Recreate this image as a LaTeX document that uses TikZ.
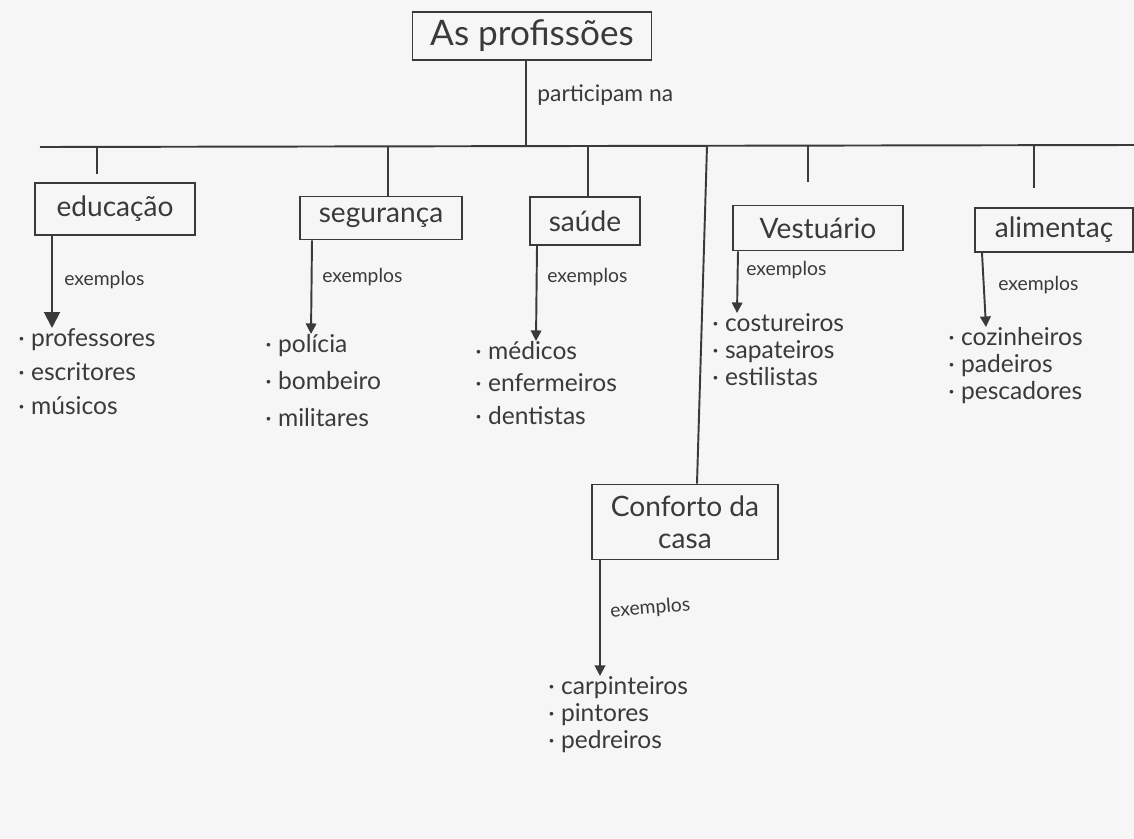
\documentclass[tikz,border=0pt]{standalone}
\usepackage{fontspec}
\setmainfont{Lato}
\usetikzlibrary{arrows.meta}
\definecolor{ink}{HTML}{3A3A3A}
\definecolor{paper}{HTML}{F6F6F6}
\tikzset{
  x=0.02cm, y=-0.02cm,
  stroke/.style={draw=ink, line width=1.1pt},
  frame/.style={stroke, rectangle, inner sep=0pt, text=ink, align=center},
  title/.style={frame, font=\fontsize{20}{22}\selectfont},
  topic/.style={frame, font=\fontsize{16}{18}\selectfont},
  link/.style={text=ink, anchor=west, inner sep=0pt, font=\fontsize{11}{13}\selectfont},
  items/.style={text=ink, anchor=north west, inner sep=0pt, align=left},
  ex/.style={stroke, -{Triangle[length=6pt,width=6pt]}},
}
\begin{document}
\begin{tikzpicture}
\fill[paper] (0,0) rectangle (1134,839);
\useasboundingbox (0,0) rectangle (1134,839);

% root concept
\node[title, minimum width=239*0.02cm, minimum height=48*0.02cm] (root) at (532,36) {As profissões};
\coordinate (busL) at (40,147);
\coordinate (busR) at (1134,145);
\draw[stroke] (root.south -| 526,0) -- (526,146) coordinate (hub);
\node[link, font=\fontsize{13}{15}\selectfont] (part) at (537,95) {participam na};
\draw[stroke] (busL) -- (busR);

% areas
\node[topic, minimum width=160*0.02cm, minimum height=52*0.02cm] (edu) at (115,209) {educação};
\node[topic, minimum width=162*0.02cm, minimum height=43*0.02cm] (seg) at (381,218) {segurança};
\node[topic, minimum width=110*0.02cm, minimum height=48*0.02cm] (sau) at (585,221) {saúde};
\node[topic, minimum width=170*0.02cm, minimum height=45*0.02cm] (ves) at (818,228) {Vestuário};
\node[topic, minimum width=158*0.02cm, minimum height=44*0.02cm] (ali) at (1054,230) {alimentaç};
\node[topic, minimum width=186*0.02cm, minimum height=75*0.02cm, font=\fontsize{16}{18}\selectfont] (con) at (685,522) {Conforto da\\casa};

% drops from the bus
\draw[stroke] (97,147) -- (97,174);
\draw[stroke] (388,146) -- (seg.north -| 388,0);
\draw[stroke] (588,146) -- (sau.north -| 588,0);
\draw[stroke] (808,146) -- (808,182);
\draw[stroke] (1034,145) -- (1034,188);
\draw[stroke] (707,146) -- (con.north -| 697,0);

% examples
\node[items, font=\fontsize{14}{19.5}\selectfont] (eduL) at (18,328) {· professores\\· escritores\\· músicos};
\node[items, font=\fontsize{14}{21}\selectfont] (segL) at (265,334) {· polícia\\· bombeiro\\· militares};
\node[items, font=\fontsize{14}{18.5}\selectfont] (sauL) at (475,341) {· médicos\\· enfermeiros\\· dentistas};
\node[items, font=\fontsize{14}{15.5}\selectfont] (vesL) at (712,313) {· costureiros\\· sapateiros\\· estilistas};
\node[items, font=\fontsize{14}{15.5}\selectfont] (aliL) at (948,327) {· cozinheiros\\· padeiros\\· pescadores};
\node[items, font=\fontsize{14}{15.5}\selectfont] (conL) at (548,676) {· carpinteiros\\· pintores\\· pedreiros};

\draw[ex, -{Triangle[length=9pt,width=9pt]}] (edu.south -| 52,0) -- (eduL.north -| 52,0);
\draw[ex] (seg.south -| 312,0) -- (segL.north -| 311,0);
\draw[ex] (sau.south -| 537,0) -- (sauL.north -| 536,0);
\draw[ex] (ves.south -| 738,0) -- (vesL.north -| 737,0);
\draw[ex] (ali.south -| 982,0) -- (aliL.north -| 986,0);
\draw[ex] (con.south -| 600,0) -- (conL.north -| 600,0);

\node[link] (eduX) at (64,280) {exemplos};
\node[link] (segX) at (322,277) {exemplos};
\node[link] (sauX) at (547,277) {exemplos};
\node[link] (vesX) at (746,270) {exemplos};
\node[link] (aliX) at (998,285) {exemplos};
\node[link, rotate=5] (conX) at (610,612) {exemplos};
\end{tikzpicture}
\end{document}
